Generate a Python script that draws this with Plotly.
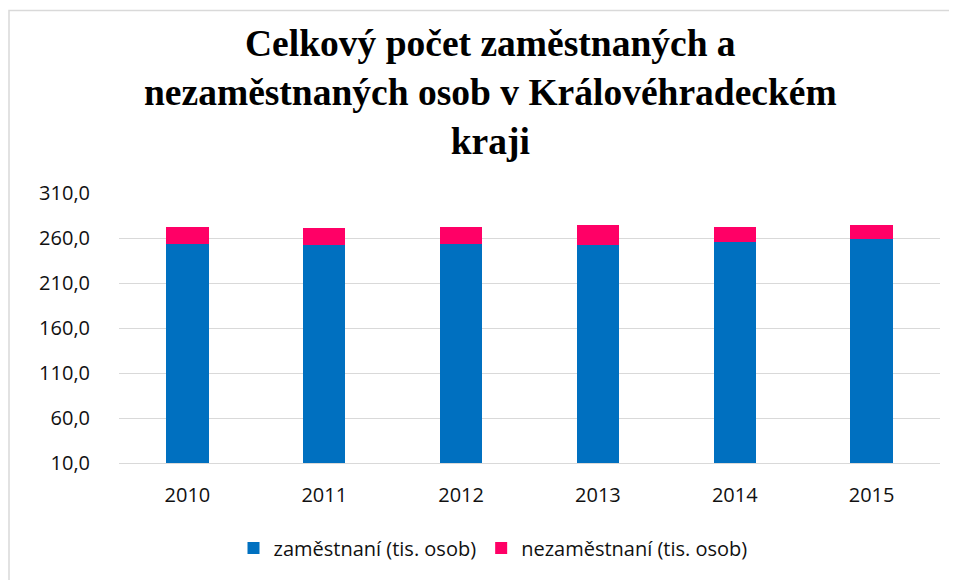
import plotly.graph_objects as go

years = ["2010", "2011", "2012", "2013", "2014", "2015"]
zamestnani = [253.1, 252.4, 253.1, 252.4, 255.8, 259.1]
nezamestnani = [19.3, 18.9, 19.3, 22.2, 16.9, 15.5]
tick_vals = [10, 60, 110, 160, 210, 260, 310]
tick_text = ["10,0", "60,0", "110,0", "160,0", "210,0", "260,0", "310,0"]

font_main = "Open Sans, Liberation Sans, sans-serif"
text_color = "#111111"
OFF = 8  # page body margin
W, H = 957, 580
PL = 119 - OFF
PT = 193 - OFF
PR = W - (940 - OFF)
PB = H - (463 - OFF)
PW, PH = W - PL - PR, H - PT - PB

def px_x(x):
    return (x - OFF - PL) / PW

def px_y(y):
    return (H - PB - (y - OFF)) / PH

fig = go.Figure()
fig.add_trace(go.Bar(x=years, y=zamestnani, name="zaměstnaní (tis. osob)",
                     marker=dict(color="#0070C0", line=dict(width=0))))
fig.add_trace(go.Bar(x=years, y=nezamestnani, name="nezaměstnaní (tis. osob)",
                     marker=dict(color="#FF0066", line=dict(width=0))))

fig.update_layout(
    barmode="stack",
    bargap=0.69,
    width=W, height=H,
    margin=dict(l=PL, r=PR, t=PT, b=PB, autoexpand=False),
    paper_bgcolor="white", plot_bgcolor="white",
    legend=dict(orientation="h", x=px_x(493), xanchor="center", y=px_y(548), yanchor="middle",
                font=dict(family=font_main, size=20, color=text_color),
                itemwidth=30, traceorder="normal"),
    xaxis=dict(tickfont=dict(family=font_main, size=20, color=text_color),
               showline=True, linecolor="#d9d9d9", linewidth=1, ticks="",
               automargin=False, ticklabelstandoff=14),
    yaxis=dict(range=[10, 310], tickvals=tick_vals, ticktext=tick_text,
               tickfont=dict(family=font_main, size=20, color=text_color),
               gridcolor="#d9d9d9", gridwidth=1, zeroline=False, ticks="",
               automargin=False, ticklabelstandoff=28),
    annotations=[dict(
        text="<b>Celkový počet zaměstnaných a<br>nezaměstnaných osob v Královéhradeckém<br>kraji</b>",
        font=dict(family="Liberation Serif, Times New Roman, serif", size=37.5, color="black"),
        xref="paper", yref="paper", x=px_x(490), y=px_y(93),
        xanchor="center", yanchor="middle", showarrow=False, align="center",
    )],
    shapes=[dict(type="rect", xref="paper", yref="paper",
                 x0=px_x(9), x1=px_x(980), y0=px_y(600), y1=px_y(10.5),
                 line=dict(color="#d9d9d9", width=1.5), fillcolor="rgba(0,0,0,0)",
                 layer="below")],
)

fig.write_html("out.html")
